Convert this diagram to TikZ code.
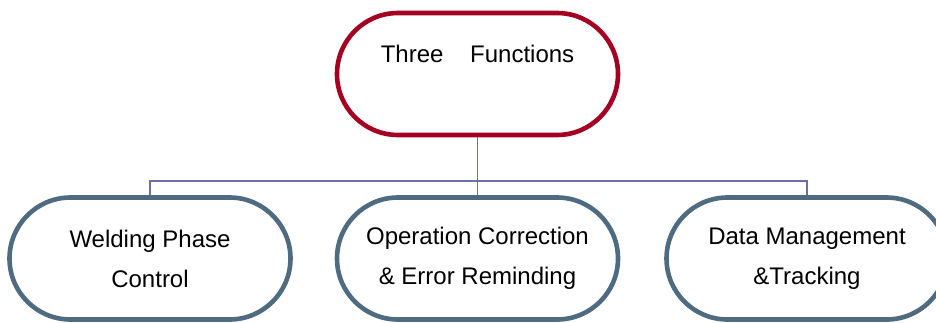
\documentclass[tikz,border=0pt]{standalone}
\usepackage{fontspec}
\setmainfont{Liberation Sans}
\definecolor{topred}{HTML}{A50021}
\definecolor{slate}{HTML}{4E6B80}
\definecolor{link}{HTML}{6C6EA4}
\begin{document}
\begin{tikzpicture}[x=1pt,y=-1pt,
  pill/.style={draw, line width=4.6pt, fill=white, minimum width=281pt, minimum height=122pt,
    rounded corners=61pt, inner sep=0pt, align=center, font=\fontsize{24}{40}\selectfont},
  toppill/.style={pill, draw=topred},
  subpill/.style={pill, draw=slate},
  linkline/.style={draw=link, line width=1.6pt}]
\useasboundingbox (0,0) rectangle (936,322);
\coordinate (bus) at (0,181);
\node[toppill] (top) at (477.5,74) {Three\hspace{20pt} Functions\\\mbox{}};
\node[subpill] (a) at (150,258.5) {Welding Phase\\Control};
\node[subpill] (b) at (477.5,258.5) {Operation Correction\\\& Error Reminding};
\node[subpill] (c) at (807,258.5) {Data Management\\\&Tracking};
\begin{scope}[on background layer/.try]
\draw[linkline] (top.south) -- (top.south |- bus);
\draw[linkline] (a.north) |- (top.south |- bus) -| (c.north);
\draw[linkline] (b.north) -- (b.north |- bus);
\end{scope}
\end{tikzpicture}
\end{document}
